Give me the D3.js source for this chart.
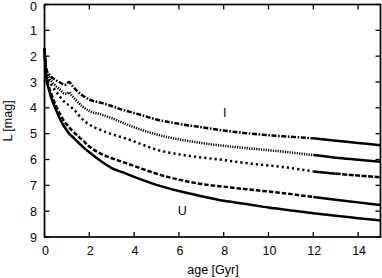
<!DOCTYPE html>
<html><head><meta charset="utf-8">
<script src="https://cdn.jsdelivr.net/npm/d3@7/dist/d3.min.js"></script>
<style>html,body{margin:0;padding:0;background:#fff;}svg{display:block;}</style>
</head><body>
<svg id="c" width="382" height="278"></svg>
<script>
// ---- data ----
const ages = [0, 0.05, 0.1, 0.2, 0.3, 0.5, 0.7, 0.9, 1.0, 1.1, 1.2, 1.4, 1.7, 2, 2.5, 3, 3.5, 4, 5, 6, 7, 8, 9, 10, 11, 12, 13, 14, 15];
const magU = [1.7, 2.6, 2.95, 3.3, 3.6, 4.05, 4.45, 4.75, 4.88, 5.0, 5.08, 5.25, 5.5, 5.72, 6.05, 6.33, 6.5, 6.67, 6.98, 7.22, 7.42, 7.6, 7.72, 7.86, 7.97, 8.08, 8.18, 8.27, 8.36];
const magB = [1.7, 2.5, 2.85, 3.2, 3.45, 3.9, 4.25, 4.55, 4.65, 4.75, 4.85, 5.02, 5.25, 5.5, 5.77, 5.95, 6.1, 6.25, 6.55, 6.78, 6.95, 7.05, 7.15, 7.24, 7.34, 7.45, 7.56, 7.66, 7.76];
const magV = [1.7, 2.4, 2.7, 2.95, 3.1, 3.35, 3.58, 3.78, 3.85, 3.9, 3.98, 4.15, 4.45, 4.65, 4.85, 5.02, 5.15, 5.3, 5.62, 5.8, 5.92, 6.02, 6.14, 6.23, 6.33, 6.46, 6.55, 6.62, 6.69];
const magR = [1.7, 2.35, 2.6, 2.8, 2.95, 3.15, 3.3, 3.45, 3.45, 3.4, 3.5, 3.7, 3.95, 4.12, 4.25, 4.4, 4.58, 4.75, 5.03, 5.22, 5.36, 5.47, 5.56, 5.64, 5.73, 5.83, 5.93, 6.01, 6.09];
const magI = [1.7, 2.3, 2.55, 2.7, 2.8, 2.92, 3.02, 3.12, 3.05, 3.0, 3.1, 3.3, 3.52, 3.68, 3.8, 3.93, 4.08, 4.2, 4.45, 4.62, 4.75, 4.88, 4.98, 5.06, 5.12, 5.18, 5.27, 5.36, 5.45];
const xTicks = [0, 2, 4, 6, 8, 10, 12, 14];
const yTicks = [0, 1, 2, 3, 4, 5, 6, 7, 8, 9];
const bandLabels = [{t: "I", age: 8.05, mag: 4.36}, {t: "U", age: 6.15, mag: 8.15}];

// ---- drawing ----
const svg = d3.select("#c");
const font = "'Liberation Sans', Arial, Helvetica, sans-serif";
const x = d3.scaleLinear().domain([0, 15]).range([44.5, 380.5]);
const y = d3.scaleLinear().domain([0, 9]).range([4.5, 237]);

const line = d3.line().x(d => x(d[0])).y(d => y(d[1])).curve(d3.curveMonotoneX);

// style segments per series: [fromAge, toAge, dasharray]
const series = [
  {v: magU, segs: [[0, 15, null]]},
  {v: magB, segs: [[0, 12, "4.5,2"], [12, 15, null]]},
  {v: magV, segs: [[0, 12, "2.2,3"], [12, 13, null], [13, 15, "5,1.5"]]},
  {v: magR, segs: [[0, 12, "1.2,1.2"], [12, 15, null]]},
  {v: magI, segs: [[0, 12, "5,1.6,1.6,1.6"], [12, 15, null]]}
];

const g = svg.append("g");
series.forEach(s => {
  const pts = ages.map((a, i) => [a, s.v[i]]);
  s.segs.forEach(([a0, a1, dash]) => {
    const sub = pts.filter(p => p[0] >= a0 && p[0] <= a1);
    g.append("path").attr("d", line(sub))
      .attr("fill", "none").attr("stroke", "#000")
      .attr("stroke-width", 2.5)
      .attr("stroke-dasharray", dash)
      .attr("stroke-linejoin", "round");
  });
});

// frame
svg.append("rect").attr("x", x(0)).attr("y", y(0))
  .attr("width", x(15) - x(0)).attr("height", y(9) - y(0))
  .attr("fill", "none").attr("stroke", "#000").attr("stroke-width", 1.7);

// ticks (inward on all sides)
const tl = 5;
xTicks.forEach(t => {
  svg.append("line").attr("x1", x(t)).attr("x2", x(t)).attr("y1", y(9)).attr("y2", y(9) - tl).attr("stroke", "#000").attr("stroke-width", 1.3);
  svg.append("line").attr("x1", x(t)).attr("x2", x(t)).attr("y1", y(0)).attr("y2", y(0) + tl).attr("stroke", "#000").attr("stroke-width", 1.3);
  svg.append("text").attr("x", x(t) + 1).attr("y", 255).attr("text-anchor", "middle")
    .attr("font-family", font).attr("font-size", 12.5).text(t);
});
yTicks.forEach(t => {
  svg.append("line").attr("x1", x(0)).attr("x2", x(0) + tl).attr("y1", y(t)).attr("y2", y(t)).attr("stroke", "#000").attr("stroke-width", 1.3);
  svg.append("line").attr("x1", x(15)).attr("x2", x(15) - tl).attr("y1", y(t)).attr("y2", y(t)).attr("stroke", "#000").attr("stroke-width", 1.3);
  svg.append("text").attr("x", 37).attr("y", Math.max(y(t) + 4.5, 10.5)).attr("text-anchor", "end")
    .attr("font-family", font).attr("font-size", 12.5).text(t);
});

// axis titles
svg.append("text").attr("x", 213).attr("y", 274).attr("text-anchor", "middle")
  .attr("font-family", font).attr("font-size", 12.5).text("age [Gyr]");
svg.append("text").attr("transform", "translate(12,121) rotate(-90)").attr("text-anchor", "middle")
  .attr("font-family", font).attr("font-size", 12.5).text("L [mag]");

// band labels
bandLabels.forEach(b => {
  svg.append("text").attr("x", x(b.age)).attr("y", y(b.mag)).attr("text-anchor", "middle")
    .attr("font-family", font).attr("font-size", 12.5).text(b.t);
});
</script>
</body></html>
